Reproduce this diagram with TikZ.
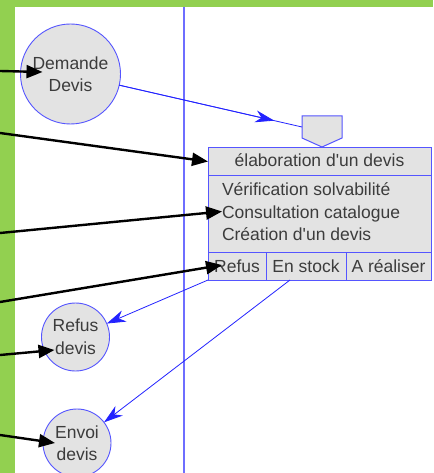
\documentclass[tikz,border=0pt]{standalone}
\usepackage{fontspec}
\setmainfont{Liberation Sans}
\usetikzlibrary{arrows.meta,calc}
\definecolor{frame}{RGB}{146,208,80}
\definecolor{edge}{RGB}{85,85,255}
\definecolor{lane}{RGB}{110,110,255}
\definecolor{flowc}{RGB}{35,35,255}
\definecolor{shade}{RGB}{227,227,227}
\definecolor{txt}{RGB}{60,60,60}
\begin{document}
\begin{tikzpicture}[x=1pt,y=-1pt,
  every node/.style={text=txt, font=\fontsize{17.5}{22.5}\selectfont, inner sep=0pt, outer sep=0pt},
  bubble/.style={circle, draw=edge, fill=shade, line width=0.9pt, align=center},
  cell/.style={rectangle, draw=edge, fill=shade, line width=1pt, anchor=north west},
  flow/.style={draw=flowc, line width=0.8pt},
  flowtip/.style={flow, -{Stealth[length=19pt,width=12pt,inset=6pt]}},
  feed/.style={draw=black, line width=2.4pt, -{Triangle[length=16pt,width=13pt]}}]
\useasboundingbox (0,0) rectangle (433,473);
% frame and swimlane
\fill[frame] (0,0) rectangle (433,473);
\fill[white] (15,7) rectangle (433,473);
\draw[lane, line width=1.1pt] (184,7) -- (184,473);

% events
\node[bubble, minimum size=100pt] (dd) at (70.5,74) {Demande\\Devis};
\node[bubble, minimum size=68pt] (rd) at (75.5,337) {Refus\\devis};
\node[bubble, minimum size=68pt] (ed) at (77,443) {Envoi\\devis};

% synchronisation
\node[rectangle, minimum width=40pt, minimum height=22pt, anchor=north west] (pent) at (302,116) {};
\draw[edge, fill=shade, line width=1pt] (pent.north west) -- (pent.north east) -- (pent.south east)
  -- ($(pent.south)+(0,9)$) -- (pent.south west) -- cycle;

% operation box
\node[cell, minimum width=223pt, minimum height=27pt] (title) at (208,148) {};
\node[cell, minimum width=223pt, minimum height=77pt] (body) at (208,175) {};
\node[cell, minimum width=58pt, minimum height=28pt] (refus) at (208,252) {};
\node[cell, minimum width=80pt, minimum height=28pt] (stock) at (266,252) {};
\node[cell, minimum width=85pt, minimum height=28pt] (real) at (346,252) {};
\node[anchor=base] (tt) at (319.5,167) {élaboration d\textquotesingle un devis};
\node[anchor=base west] (v1) at (222,195) {Vérification solvabilité};
\node[anchor=base west] (v2) at (222,218) {Consultation catalogue};
\node[anchor=base west] (v3) at (222,240) {Création d\textquotesingle un devis};
\node[anchor=base] (r1) at (237,272) {Refus};
\node[anchor=base] (r2) at (306,272) {En stock};
\node[anchor=base] (r3) at (388.5,272) {A réaliser};

% control flow
\draw[flow] (dd) -- (pent.west);
\draw[flowtip] (dd) -- ($(dd)!0.88!(pent.west)$);
\draw[flowtip] (refus.south west) -- (rd);
\draw[flowtip] ($(stock.south west)!0.3!(stock.south east)$) -- (ed);

% incoming messages
\coordinate (s1) at (0,71);
\coordinate (s2) at (0,133);
\coordinate (s3) at (0,233);
\coordinate (s4) at (0,302);
\coordinate (s5) at (0,355);
\coordinate (s6) at (0,435);
\draw[feed] (s1) -- ($(dd.center)+(-28,-2)$);
\draw[feed] (s2) -- (title.west);
\draw[feed] (s3) -- ($(v2.west)+(0,-2)$);
\draw[feed] (s4) -- ($(refus.center)+(-15,-1)$);
\draw[feed] (s5) -- ($(rd.center)+(-21,13)$);
\draw[feed] (s6) -- ($(ed.center)+(-22,0)$);
\end{tikzpicture}
\end{document}
